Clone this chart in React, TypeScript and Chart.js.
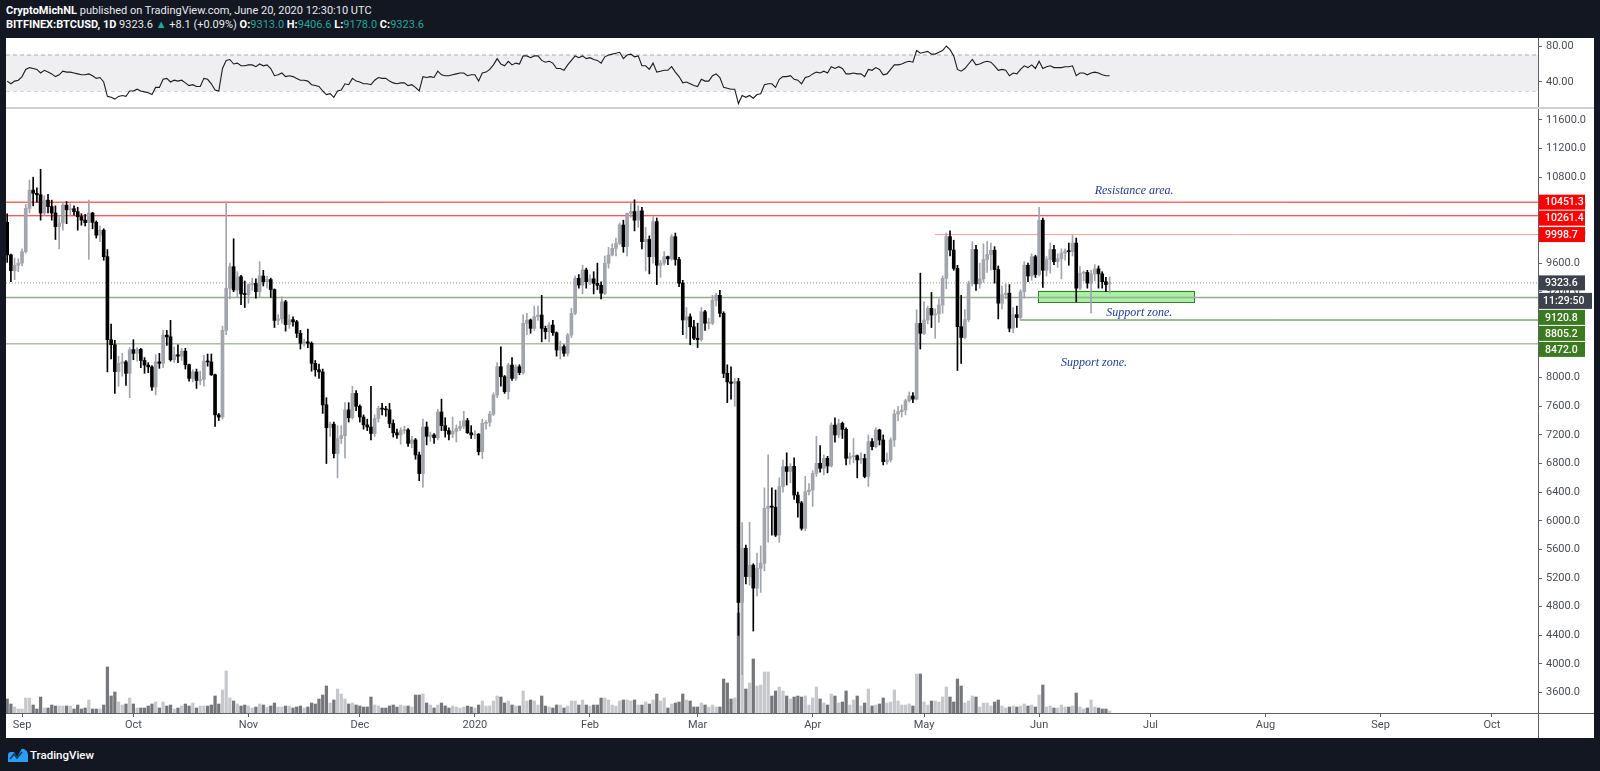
import React, { useEffect, useRef } from "react";
import { Chart, registerables } from "chart.js";

Chart.register(...registerables);

// ------------------------------------------------------------------
// DATA (daily candles BITFINEX:BTCUSD, 2019-08-28 .. 2020-06-20)
// day index counted from 2019-09-01 (= 0)
// ------------------------------------------------------------------
const FIRST_DAY = -4;

const opens: number[] = [
  // Aug 28-31
  10170, 9715, 9495, 9570,
  // Sep
  9600, 9760, 10365, 10620, 10575, 10555, 10300, 10480, 10390, 10300, 10110, 10160, 10410, 10345, 10360,
  10320, 10250, 10200, 10165, 10300, 10170, 9990, 10060, 9690, 8530, 8460, 8085, 8200, 8220, 8060,
  // Oct
  8390, 8340, 8395, 8240, 8175, 8150, 7870, 8220, 8200, 8595, 8570, 8250, 8320, 8300, 8370, 8180,
  7990, 8080, 7960, 7975, 8230, 8220, 8040, 7480, 7450, 8660, 9250, 9550, 9225, 9410, 9170,
  // Nov
  9160, 9300, 9320, 9200, 9420, 9340, 9370, 9230, 8800, 8820, 9060, 8740, 8810, 8780, 8620,
  8480, 8500, 8480, 8200, 8110, 8080, 7620, 7300, 7350, 6940, 7150, 7190, 7550, 7440, 7780,
  // Dec
  7600, 7450, 7340, 7310, 7220, 7430, 7570, 7560, 7550, 7360, 7230, 7200, 7260, 7270, 7080, 7130,
  6920, 6660, 7310, 7180, 7200, 7160, 7520, 7330, 7260, 7210, 7250, 7290, 7320, 7400, 7230,
  // Jan
  7200, 7210, 6965, 7362, 7375, 7490, 7757, 8153, 8013, 7804, 8176, 7990, 8153, 8070, 8758, 8805,
  8689, 8852, 8875, 8689, 8642, 8735, 8628, 8386, 8433, 8340, 8595, 8898, 9387, 9294, 9504,
  // Feb
  9341, 9380, 9318, 9290, 9178, 9597, 9713, 9806, 9876, 10132, 9830, 10295, 10320, 10200, 10330,
  9900, 9930, 9690, 10180, 9570, 9600, 9690, 9660, 9970, 9650, 9320, 8805, 8850, 8710,
  // Mar
  8550, 8530, 8920, 8760, 8760, 9080, 9150, 8900, 8060, 7940, 7920, 7945, 4860, 5617, 5220, 5380,
  5060, 5336, 5406, 6174, 6205, 6190, 5800, 6477, 6756, 6690, 6760, 6360, 6250, 5895, 6407,
  // Apr
  6430, 6663, 6803, 6733, 6873, 6766, 7338, 7199, 7360, 7278, 6873, 6896, 6910, 6850, 6870,
  6620, 7106, 7036, 7268, 7129, 6826, 6850, 7129, 7492, 7525, 7548, 7678, 7744, 7700, 8758,
  // May
  8619, 8805, 8968, 8875, 8890, 9015, 9387, 9970, 9783, 9527, 8712, 8560, 8810, 9310, 9790, 9310,
  9380, 9650, 9720, 9780, 9510, 9040, 9160, 9180, 8690, 8880, 8840, 9200, 9570, 9420, 9690,
  // Jun 1-20
  9440, 10200, 9500, 9650, 9790, 9620, 9660, 9740, 9770, 9760, 9880, 9250, 9460, 9470, 9320,
  9450, 9520, 9450, 9340, 9313,
];

const highs: number[] = [
  10290, 9725, 9670, 9660,
  9800, 10420, 10760, 10800, 10650, 10910, 10540, 10560, 10480, 10400, 10260, 10450, 10460, 10430, 10400,
  10380, 10290, 10280, 10480, 10310, 10190, 10120, 10080, 9790, 8750, 8520, 8300, 8340, 8240, 8420,
  8530, 8420, 8410, 8280, 8210, 8170, 8320, 8340, 8660, 8660, 8800, 8430, 8460, 8410, 8410, 8190,
  8110, 8120, 8090, 8310, 8330, 8330, 8050, 7500, 8720, 10460, 9600, 9940, 9480, 9430, 9350,
  9310, 9390, 9380, 9620, 9500, 9420, 9390, 9240, 8880, 9130, 9080, 8880, 8850, 8800, 8660,
  8540, 8680, 8500, 8240, 8190, 8120, 7720, 7380, 7380, 7330, 7330, 7650, 7650, 7880, 7820,
  7620, 7480, 7420, 7880, 7480, 7600, 7640, 7600, 7640, 7410, 7280, 7300, 7320, 7290, 7180, 7150,
  6960, 7420, 7380, 7240, 7220, 7560, 7700, 7440, 7300, 7450, 7340, 7390, 7530, 7430, 7330,
  7260, 7220, 7420, 7400, 7530, 7790, 8210, 8430, 8030, 8200, 8280, 8180, 8180, 8880, 8900, 8820,
  9000, 9000, 9150, 8720, 8770, 8800, 8640, 8510, 8460, 8620, 8970, 9420, 9440, 9570, 9530,
  9440, 9480, 9600, 9340, 9700, 9820, 9870, 9950, 10160, 10200, 10300, 10445, 10485, 10400, 10380,
  10100, 9980, 10250, 10230, 9640, 9760, 9700, 10000, 10020, 9680, 9360, 8980, 8890, 8800,
  8760, 8980, 8940, 8830, 9150, 9180, 9220, 8920, 8180, 8150, 7990, 7990, 5974, 5660, 5980, 5400,
  5550, 5650, 6460, 6920, 6460, 6430, 6600, 6850, 6950, 6800, 6880, 6400, 6270, 6620, 6520,
  6700, 7180, 7050, 6920, 6900, 7370, 7440, 7420, 7380, 7300, 6950, 7150, 6920, 6950, 6930,
  7200, 7150, 7300, 7280, 7200, 6950, 7160, 7550, 7600, 7620, 7700, 7800, 7790, 8950, 9460,
  9060, 9000, 9190, 8960, 9100, 9420, 10020, 10050, 9920, 9570, 9150, 8950, 9350, 9900, 9850, 9600,
  9870, 9900, 9880, 9830, 9560, 9280, 9310, 9300, 8980, 9000, 9230, 9620, 9600, 9730, 9710,
  10380, 10230, 9690, 9880, 9850, 9730, 9800, 9800, 9880, 9990, 9950, 9550, 9490, 9500, 9500,
  9580, 9560, 9480, 9400, 9406.6,
];

const lows: number[] = [
  9610, 9340, 9370, 9480,
  9560, 9740, 10300, 10400, 10450, 10200, 10270, 10300, 10200, 9930, 9800, 10060, 10150, 10260, 10270,
  10060, 10130, 10120, 9650, 10080, 9950, 9900, 9640, 8080, 8260, 7780, 7880, 8020, 7890, 7720,
  8250, 8230, 8140, 8060, 8070, 7820, 7760, 8130, 8140, 8450, 8230, 8210, 8210, 8240, 8120, 7950,
  7940, 7850, 7900, 7880, 8160, 8030, 7320, 7400, 7420, 8600, 9100, 9200, 9120, 9020, 8980,
  9040, 9220, 9110, 9120, 9280, 9250, 9120, 8700, 8740, 8760, 8650, 8690, 8720, 8560, 8400,
  8440, 8420, 8090, 8020, 7990, 7500, 6800, 7180, 6880, 6600, 7080, 6880, 7380, 7420, 7540,
  7380, 7280, 7260, 7130, 7180, 7380, 7480, 7460, 7300, 7170, 7150, 7070, 7220, 7040, 7020, 6860,
  6560, 6470, 7060, 7110, 7080, 7130, 7260, 7170, 7130, 7160, 7100, 7260, 7290, 7220, 7150,
  7150, 6920, 6870, 7280, 7320, 7470, 7720, 7880, 7780, 7700, 7960, 7960, 8040, 8050, 8600, 8620,
  8660, 8800, 8500, 8540, 8500, 8590, 8300, 8260, 8300, 8300, 8560, 8880, 9250, 9170, 9250,
  9300, 9170, 9230, 9100, 9160, 9530, 9700, 9700, 9860, 9750, 9700, 10240, 10050, 10100, 9800,
  9490, 9450, 9600, 9300, 9400, 9570, 9580, 9640, 9570, 9270, 8600, 8550, 8460, 8530,
  8420, 8510, 8660, 8680, 8740, 9000, 8850, 8000, 7650, 7700, 7600, 4400, 3850, 5120, 5100, 4460,
  4950, 5000, 5300, 5700, 5800, 5780, 5700, 6400, 6500, 6530, 6300, 6050, 5870, 5860, 6360,
  6200, 6620, 6680, 6640, 6670, 6750, 7100, 7160, 7150, 6780, 6790, 6810, 6600, 6800, 6600,
  6480, 6990, 7020, 7060, 6780, 6790, 6820, 7040, 7400, 7450, 7480, 7660, 7650, 7690, 8400,
  8600, 8750, 8700, 8550, 8770, 8900, 9240, 9700, 9500, 8100, 8200, 8540, 8780, 9280, 9220, 9250,
  9330, 9470, 9500, 9320, 8820, 8960, 9100, 8640, 8630, 8700, 8810, 9110, 9340, 9360, 9400,
  9420, 9260, 9420, 9460, 9580, 9540, 9380, 9640, 9570, 9700, 9060, 9230, 9350, 9250, 8900,
  9350, 9250, 9250, 9200, 9178,
];

const closes: number[] = [
  9715, 9495, 9570, 9600,
  9760, 10365, 10620, 10575, 10555, 10300, 10480, 10390, 10300, 10110, 10160, 10410, 10345, 10360, 10320,
  10250, 10200, 10165, 10300, 10170, 9990, 10060, 9690, 8530, 8460, 8085, 8200, 8220, 8060, 8390,
  8340, 8395, 8240, 8175, 8150, 7870, 8220, 8200, 8595, 8570, 8250, 8320, 8300, 8370, 8180, 7990,
  8080, 7960, 7975, 8230, 8220, 8040, 7480, 7450, 8660, 9250, 9550, 9225, 9410, 9170, 9160,
  9300, 9320, 9200, 9420, 9340, 9370, 9230, 8800, 8820, 9060, 8740, 8810, 8780, 8620, 8480,
  8500, 8480, 8200, 8110, 8080, 7620, 7300, 7350, 6940, 7150, 7190, 7550, 7440, 7780, 7600,
  7450, 7340, 7310, 7220, 7430, 7570, 7560, 7550, 7360, 7230, 7200, 7260, 7270, 7080, 7130, 6920,
  6660, 7310, 7180, 7200, 7160, 7520, 7330, 7260, 7210, 7250, 7290, 7320, 7400, 7230, 7200,
  7210, 6965, 7362, 7375, 7490, 7757, 8153, 8013, 7804, 8176, 7990, 8153, 8070, 8758, 8805, 8689,
  8852, 8875, 8689, 8642, 8735, 8628, 8386, 8433, 8340, 8595, 8898, 9387, 9294, 9504, 9341,
  9380, 9318, 9290, 9178, 9597, 9713, 9806, 9876, 10132, 9830, 10295, 10320, 10200, 10330, 9900,
  9930, 9690, 10180, 9570, 9600, 9690, 9660, 9970, 9650, 9320, 8805, 8850, 8710, 8550,
  8530, 8920, 8760, 8760, 9080, 9150, 8900, 8060, 7940, 7920, 7945, 4860, 5617, 5220, 5380, 5060,
  5336, 5406, 6174, 6205, 6190, 5800, 6477, 6756, 6690, 6760, 6360, 6250, 5895, 6407, 6430,
  6663, 6803, 6733, 6873, 6766, 7338, 7199, 7360, 7278, 6873, 6896, 6910, 6850, 6870, 6620,
  7106, 7036, 7268, 7129, 6826, 6850, 7129, 7492, 7525, 7548, 7678, 7744, 7700, 8758, 8619,
  8805, 8968, 8875, 8890, 9015, 9387, 9970, 9783, 9527, 8712, 8560, 8810, 9310, 9790, 9310, 9380,
  9650, 9720, 9780, 9510, 9040, 9160, 9180, 8690, 8880, 8840, 9200, 9570, 9420, 9690, 9440,
  10200, 9500, 9650, 9790, 9620, 9660, 9740, 9770, 9760, 9880, 9250, 9460, 9470, 9320, 9450,
  9520, 9450, 9340, 9300, 9323.6,
];

// volume, relative units
const volumes: number[] = [
  14, 9, 6, 4,
  4, 15, 15, 8, 4, 16, 5, 5, 8, 7, 7, 7, 7, 7, 4,
  8, 4, 5, 13, 4, 4, 4, 8, 46, 17, 21, 11, 8, 9, 15,
  9, 5, 5, 5, 7, 9, 11, 5, 11, 7, 8, 4, 5, 7, 9, 7,
  10, 5, 7, 7, 7, 8, 17, 9, 23, 42, 15, 12, 9, 7, 8,
  7, 5, 6, 9, 8, 6, 7, 10, 6, 6, 7, 7, 5, 6, 7,
  5, 6, 10, 9, 14, 18, 27, 10, 13, 24, 19, 14, 9, 10, 8,
  7, 6, 6, 16, 8, 7, 5, 5, 7, 8, 6, 8, 7, 7, 6, 18,
  18, 19, 10, 8, 5, 8, 10, 7, 5, 7, 6, 5, 6, 7, 6,
  5, 8, 12, 7, 7, 12, 17, 16, 10, 12, 8, 7, 7, 22, 12, 13,
  12, 8, 17, 7, 6, 5, 8, 8, 5, 7, 12, 12, 8, 13, 8,
  7, 8, 8, 15, 15, 13, 8, 7, 12, 13, 13, 12, 13, 8, 8,
  11, 9, 13, 19, 12, 15, 5, 9, 10, 11, 19, 13, 12, 6,
  6, 10, 8, 6, 8, 6, 6, 34, 30, 14, 15, 100, 111, 24, 30, 54,
  27, 28, 41, 41, 17, 22, 26, 22, 17, 14, 16, 17, 16, 17, 8,
  15, 26, 14, 10, 8, 19, 17, 10, 11, 22, 8, 13, 17, 7, 10,
  24, 7, 8, 9, 15, 10, 11, 23, 12, 8, 8, 9, 7, 39, 39,
  11, 8, 12, 12, 11, 16, 26, 16, 11, 34, 27, 10, 12, 17, 16, 6,
  10, 10, 7, 11, 13, 7, 5, 6, 7, 6, 7, 9, 7, 8, 6,
  18, 28, 6, 7, 5, 5, 8, 6, 6, 7, 20, 6, 4, 5, 13,
  6, 5, 4, 4, 2,
];

const rsiValues: number[] = [
  41, 38, 41, 42,
  46, 54, 56, 55, 54, 50, 53, 51, 49, 46, 48, 52, 51, 51, 50,
  49, 48, 48, 49, 47, 44, 45, 40, 24, 23, 21, 24, 25, 24, 30,
  30, 32, 30, 29, 28, 26, 34, 34, 43, 44, 40, 42, 41, 42, 39, 36,
  37, 35, 35, 44, 43, 38, 31, 30, 55, 64, 65, 60, 61, 58, 58,
  59, 59, 57, 60, 58, 59, 55, 47, 48, 50, 46, 47, 46, 44, 42,
  42, 41, 37, 36, 35, 30, 26, 27, 23, 30, 31, 38, 37, 44, 41,
  40, 38, 38, 37, 42, 45, 44, 44, 41, 39, 38, 39, 39, 36, 37, 34,
  30, 46, 45, 46, 45, 52, 48, 47, 47, 48, 49, 50, 50, 47, 48,
  48, 41, 50, 51, 54, 59, 66, 60, 58, 63, 59, 61, 60, 69, 69, 67,
  69, 69, 64, 62, 63, 61, 55, 55, 53, 59, 64, 69, 67, 69, 66,
  67, 65, 64, 61, 68, 70, 71, 72, 73, 66, 70, 71, 68, 69, 58,
  58, 54, 61, 51, 52, 53, 53, 57, 51, 46, 39, 40, 38, 36,
  35, 43, 41, 41, 47, 49, 45, 34, 33, 32, 32, 16, 25, 23, 25, 22,
  26, 27, 37, 38, 38, 34, 43, 46, 46, 47, 43, 42, 38, 45, 46,
  49, 51, 50, 52, 50, 57, 55, 57, 55, 49, 49, 50, 49, 49, 46,
  54, 53, 56, 54, 48, 49, 54, 59, 59, 60, 62, 63, 62, 75, 72,
  73, 74, 71, 71, 73, 75, 80, 76, 69, 54, 52, 55, 60, 65, 59, 60,
  62, 63, 62, 58, 53, 54, 53, 47, 50, 49, 54, 58, 56, 59, 55,
  63, 55, 57, 58, 56, 56, 56, 57, 57, 58, 47, 50, 50, 48, 50,
  51, 50, 48, 47, 47,
];

// axis ticks
const monthTickDays = [0, 30, 61, 91, 122, 153, 182, 213, 243, 274, 304, 335, 366, 396];
const monthTickLabels = ["Sep", "Oct", "Nov", "Dec", "2020", "Feb", "Mar", "Apr", "May", "Jun", "Jul", "Aug", "Sep", "Oct"];
const priceTickValues = [3600, 4000, 4400, 4800, 5200, 5600, 6000, 6400, 6800, 7200, 7600, 8000, 8400, 8800, 9200, 9600, 10000, 10400, 10800, 11200, 11600];
const rsiTickValues = [40, 80];
const rsiBandLevels = [70, 30];

// drawn levels
const levelPrices = [10451.3, 10261.4, 9998.7, 9120.8, 8805.2, 8472.0];
const levelStartDays: (number | null)[] = [null, null, 245.9, null, 268.8, null];
const lastPrice = 9323.6;
const countdownText = "11:29:50";

// support rectangle
const zoneDays = [273.7, 315.7];
const zonePrices = [9057, 9215];

// text notes
const noteTexts = ["Resistance area.", "Support zone.", "Support zone."];
const noteDays = [299.6, 301.0, 288.8];
const notePrices = [10607, 8903, 8205];

// ------------------------------------------------------------------
// STYLE / LAYOUT
// ------------------------------------------------------------------
const X_MIN = -4.32;
const X_MAX = 408.4;
const Y_MIN = 3315;
const Y_MAX = 11753;
const VOL_MAX = 604;
const RSI_MIN = 12.2;
const RSI_MAX = 88.9;
const AXIS_W = 56;

const UP_COLOR = "#a2a5ac";
const DOWN_COLOR = "#000000";
const UP_VOL = "#c6c8cc";
const DOWN_VOL = "#75777b";
const AXIS_TEXT = "#4a4d57";
const AXIS_LINE = "#5d606b";
const FONT = "Roboto";

const levelLineColors = ["#ff1a1a", "#ff1a1a", "#ff9e9e", "#95ae90", "#3f7a2c", "#83a07c"];
const levelBoxColors = ["#ff0000", "#ff0000", "#ff0000", "#3b7a1e", "#3b7a1e", "#3b7a1e"];
const LAST_BOX = "#3d414c";

const days = opens.map((_, i) => FIRST_DAY + i);
const upFlags = closes.map((c, i) => c >= opens[i]);

function fixVertical(scale: any) {
  scale.width = AXIS_W;
  scale.paddingTop = 0;
  scale.paddingBottom = 0;
}

function fixHorizontal(scale: any) {
  scale.height = 25;
  scale.paddingLeft = 0;
  scale.paddingRight = 0;
}

const mainOverlay = {
  id: "mainOverlay",
  beforeDatasetsDraw(chart: any) {
    const { ctx, scales } = chart;
    const x = scales.x;
    const y = scales.y;
    const x0 = x.getPixelForValue(zoneDays[0]);
    const x1 = x.getPixelForValue(zoneDays[1]);
    const y0 = y.getPixelForValue(zonePrices[1]);
    const y1 = y.getPixelForValue(zonePrices[0]);
    ctx.save();
    ctx.fillStyle = "#a9efa4";
    ctx.fillRect(x0, y0, x1 - x0, y1 - y0);
    ctx.strokeStyle = "#3c7a34";
    ctx.lineWidth = 1;
    ctx.strokeRect(Math.round(x0) + 0.5, Math.round(y0) + 0.5, Math.round(x1 - x0), Math.round(y1 - y0));
    ctx.restore();
  },
  afterDatasetsDraw(chart: any) {
    const { ctx, scales } = chart;
    ctx.save();
    ctx.fillStyle = "#1f3c96";
    ctx.font = "italic 12px 'Liberation Serif'";
    ctx.textAlign = "center";
    ctx.textBaseline = "middle";
    noteTexts.forEach((t, i) => {
      ctx.fillText(t, scales.x.getPixelForValue(noteDays[i]), scales.y.getPixelForValue(notePrices[i]));
    });
    ctx.restore();
  },
  afterDraw(chart: any) {
    const { ctx, scales, chartArea, width, height } = chart;
    const y = scales.y;
    ctx.save();
    ctx.strokeStyle = AXIS_LINE;
    ctx.lineWidth = 1;
    ctx.beginPath();
    ctx.moveTo(chartArea.right, Math.round(chartArea.bottom) + 0.5);
    ctx.lineTo(width, Math.round(chartArea.bottom) + 0.5);
    ctx.moveTo(Math.round(chartArea.right) + 0.5, chartArea.bottom);
    ctx.lineTo(Math.round(chartArea.right) + 0.5, height);
    ctx.stroke();

    type Lab = { text: string; value: number; bg: string };
    const labs: Lab[] = levelPrices.map((p, i) => ({ text: p.toFixed(1), value: p, bg: levelBoxColors[i] }));
    labs.push({ text: lastPrice.toFixed(1), value: lastPrice, bg: LAST_BOX });
    const withY = labs.map((l) => ({ ...l, py: y.getPixelForValue(l.value) }));
    withY.sort((a, b) => a.py - b.py);
    const placed: { text: string; bg: string; cy: number; w: number; h: number; tx: number }[] = [];
    let prev = -1e9;
    withY.forEach((l) => {
      const cy = Math.max(l.py, prev + 16);
      placed.push({ text: l.text, bg: l.bg, cy, w: 46, h: 15, tx: 7 });
      prev = cy;
      if (l.value === lastPrice) {
        const cd = cy + 18;
        placed.push({ text: countdownText, bg: LAST_BOX, cy: cd, w: 53, h: 16, tx: 5 });
        prev = cd + 0.5;
      }
    });
    const left = chartArea.right;
    ctx.font = `500 10.5px ${FONT}`;
    ctx.textBaseline = "middle";
    ctx.textAlign = "left";
    placed.forEach((p) => {
      ctx.fillStyle = p.bg;
      ctx.fillRect(left + 1, p.cy - p.h / 2, p.w, p.h);
      ctx.fillStyle = "#ffffff";
      ctx.fillText(p.text, left + p.tx, p.cy + 0.5);
    });
    ctx.restore();
  },
};

const rsiOverlay = {
  id: "rsiOverlay",
  afterDraw(chart: any) {
    const { ctx, chartArea, height } = chart;
    ctx.save();
    ctx.strokeStyle = AXIS_LINE;
    ctx.lineWidth = 1;
    ctx.beginPath();
    ctx.moveTo(Math.round(chartArea.right) + 0.5, 0);
    ctx.lineTo(Math.round(chartArea.right) + 0.5, height);
    ctx.stroke();
    ctx.restore();
  },
};

function MainChart() {
  const ref = useRef<HTMLCanvasElement | null>(null);
  useEffect(() => {
    if (!ref.current) return;
    const levelDatasets: any[] = levelPrices.map((p, i) => ({
      type: "line",
      data: [
        { x: levelStartDays[i] ?? X_MIN, y: p },
        { x: X_MAX, y: p },
      ],
      borderColor: levelLineColors[i],
      borderWidth: i === 3 ? 1.5 : 1,
      pointRadius: 0,
      fill: false,
      order: 10,
      yAxisID: "y",
    }));
    const chart = new Chart(ref.current, {
      type: "bar",
      data: {
        datasets: [
          {
            type: "bar",
            data: days.map((d, i) => ({ x: d, y: [opens[i], closes[i]] })) as any,
            backgroundColor: upFlags.map((u) => (u ? UP_COLOR : DOWN_COLOR)),
            barThickness: 3,
            minBarLength: 1,
            grouped: false,
            order: 0,
            yAxisID: "y",
          } as any,
          {
            type: "bar",
            data: days.map((d, i) => ({ x: d, y: [lows[i], highs[i]] })) as any,
            backgroundColor: upFlags.map((u) => (u ? UP_COLOR : DOWN_COLOR)),
            barThickness: 1,
            grouped: false,
            order: 1,
            yAxisID: "y",
          } as any,
          {
            type: "bar",
            data: days.map((d, i) => ({ x: d, y: volumes[i] })) as any,
            backgroundColor: upFlags.map((u) => (u ? UP_VOL : DOWN_VOL)),
            barThickness: 2.6,
            grouped: false,
            order: 20,
            yAxisID: "yVol",
          } as any,
          ...levelDatasets,
          {
            type: "line",
            data: [
              { x: X_MIN, y: lastPrice },
              { x: X_MAX, y: lastPrice },
            ],
            borderColor: "#8a8d96",
            borderWidth: 1,
            borderDash: [1, 2],
            pointRadius: 0,
            fill: false,
            order: 11,
            yAxisID: "y",
          } as any,
        ],
      },
      options: {
        animation: false,
        responsive: false,
        events: [],
        layout: { padding: 0 },
        plugins: { legend: { display: false }, tooltip: { enabled: false } },
        scales: {
          x: {
            type: "linear",
            min: X_MIN,
            max: X_MAX,
            offset: false,
            position: "bottom",
            afterBuildTicks: (s: any) => {
              s.ticks = monthTickDays.map((v) => ({ value: v }));
            },
            afterFit: fixHorizontal,
            ticks: {
              autoSkip: false,
              maxRotation: 0,
              minRotation: 0,
              padding: 2,
              color: AXIS_TEXT,
              font: { family: FONT, size: 11 },
              callback: (v: any) => monthTickLabels[monthTickDays.indexOf(Number(v))] ?? "",
            },
            grid: { drawOnChartArea: false, drawTicks: true, tickLength: 4, color: AXIS_LINE, offset: false },
            border: { display: true, color: AXIS_LINE },
          },
          y: {
            type: "linear",
            position: "right",
            min: Y_MIN,
            max: Y_MAX,
            afterBuildTicks: (s: any) => {
              s.ticks = priceTickValues.map((v) => ({ value: v }));
            },
            afterFit: fixVertical,
            ticks: {
              autoSkip: false,
              padding: 4,
              color: AXIS_TEXT,
              font: { family: FONT, size: 11 },
              callback: (v: any) => Number(v).toFixed(1),
            },
            grid: { drawOnChartArea: false, drawTicks: true, tickLength: 4, color: AXIS_LINE },
            border: { display: true, color: AXIS_LINE },
          },
          yVol: {
            type: "linear",
            display: false,
            min: 0,
            max: VOL_MAX,
          },
        },
      } as any,
      plugins: [mainOverlay],
    });
    return () => chart.destroy();
  }, []);
  return (
    <canvas
      ref={ref}
      width={1588}
      height={629}
      style={{ position: "absolute", left: 6, top: 109, width: 1588, height: 629 }}
    />
  );
}

function RsiChart() {
  const ref = useRef<HTMLCanvasElement | null>(null);
  useEffect(() => {
    if (!ref.current) return;
    const chart = new Chart(ref.current, {
      type: "line",
      data: {
        datasets: [
          {
            data: [
              { x: X_MIN, y: rsiBandLevels[0] },
              { x: X_MAX, y: rsiBandLevels[0] },
            ],
            borderColor: "#a9abb2",
            borderWidth: 1,
            borderDash: [4, 3],
            pointRadius: 0,
            fill: "+1",
            backgroundColor: "#efeff2",
            order: 5,
          },
          {
            data: [
              { x: X_MIN, y: rsiBandLevels[1] },
              { x: X_MAX, y: rsiBandLevels[1] },
            ],
            borderColor: "#a9abb2",
            borderWidth: 1,
            borderDash: [4, 3],
            pointRadius: 0,
            fill: false,
            order: 6,
          },
          {
            data: days.map((d, i) => ({ x: d, y: rsiValues[i] })),
            borderColor: "#1c1c1c",
            borderWidth: 1.1,
            pointRadius: 0,
            fill: false,
            tension: 0,
            order: 0,
          },
        ] as any,
      },
      options: {
        animation: false,
        responsive: false,
        events: [],
        layout: { padding: 0 },
        plugins: { legend: { display: false }, tooltip: { enabled: false } },
        scales: {
          x: { type: "linear", min: X_MIN, max: X_MAX, display: false, offset: false },
          y: {
            type: "linear",
            position: "right",
            min: RSI_MIN,
            max: RSI_MAX,
            afterBuildTicks: (s: any) => {
              s.ticks = rsiTickValues.map((v) => ({ value: v }));
            },
            afterFit: fixVertical,
            ticks: {
              autoSkip: false,
              padding: 4,
              color: AXIS_TEXT,
              font: { family: FONT, size: 11 },
              callback: (v: any) => Number(v).toFixed(2),
            },
            grid: { drawOnChartArea: false, drawTicks: true, tickLength: 4, color: AXIS_LINE },
            border: { display: true, color: AXIS_LINE },
          },
        },
      } as any,
      plugins: [rsiOverlay],
    });
    return () => chart.destroy();
  }, []);
  return (
    <canvas
      ref={ref}
      width={1588}
      height={69}
      style={{ position: "absolute", left: 6, top: 38, width: 1588, height: 69 }}
    />
  );
}

const TEAL = "#26a69a";

export default function App() {
  return (
    <div
      style={{
        position: "fixed",
        left: 0,
        top: 0,
        width: 1600,
        height: 771,
        background: "#131722",
        overflow: "hidden",
        fontFamily: FONT,
      }}
    >
      <div style={{ position: "absolute", left: 6, top: 4, fontSize: 11, lineHeight: "14px", color: "#e8e9ec", whiteSpace: "nowrap" }}>
        <span style={{ fontWeight: 700, color: "#fff" }}>CryptoMichNL</span> published on TradingView.com, June 20, 2020 12:30:10 UTC
      </div>
      <div style={{ position: "absolute", left: 6, top: 18, fontSize: 11, lineHeight: "14px", color: "#e8e9ec", whiteSpace: "nowrap" }}>
        <span style={{ fontWeight: 700, color: "#fff" }}>BITFINEX:BTCUSD, 1D</span> 9323.6 <span style={{ color: TEAL }}>▲</span> +8.1 (+0.09%){" "}
        <b style={{ color: "#fff" }}>O:</b>
        <span style={{ color: TEAL }}>9313.0</span> <b style={{ color: "#fff" }}>H:</b>
        <span style={{ color: TEAL }}>9406.6</span> <b style={{ color: "#fff" }}>L:</b>
        <span style={{ color: TEAL }}>9178.0</span> <b style={{ color: "#fff" }}>C:</b>
        <span style={{ color: TEAL }}>9323.6</span>
      </div>
      <div style={{ position: "absolute", left: 6, top: 38, width: 1588, height: 700, background: "#ffffff" }} />
      <RsiChart />
      <div style={{ position: "absolute", left: 6, top: 107, width: 1588, height: 2, background: "#cfd1d6" }} />
      <MainChart />
      <svg style={{ position: "absolute", left: 8, top: 748 }} width="20" height="14" viewBox="0 0 20 14">
        <path d="M0 14 L0 7 Q0 4 3 4 L6 4 L9 9 L13 2 Q14 0 16 1 Q20 3 20 7 L20 14 Z" fill="#2a9df4" />
        <path d="M2 11 L6 6 L9 10 L14 4" stroke="#0b3a66" strokeWidth="1.6" fill="none" />
      </svg>
      <div style={{ position: "absolute", left: 30, top: 748, fontSize: 11.5, lineHeight: "14px", color: "#ffffff", fontWeight: 500 }}>
        TradingView
      </div>
    </div>
  );
}
